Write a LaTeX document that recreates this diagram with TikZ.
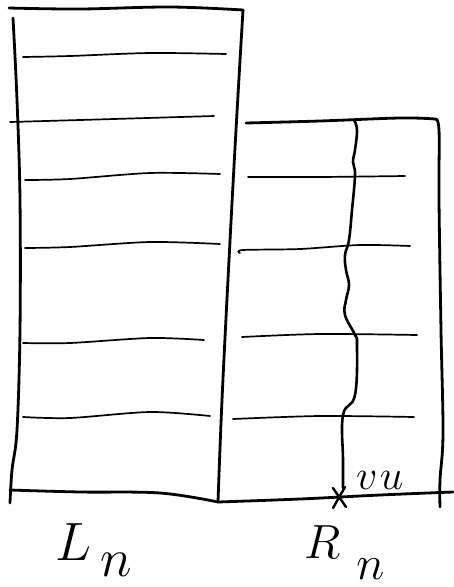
\documentclass[tikz,border=0pt]{standalone}
\usepackage{fix-cm}
\begin{document}
\begin{tikzpicture}[x=1pt,y=-1pt,
  frame/.style={line width=2.8pt,line cap=round,line join=round},
  rung/.style={line width=1.7pt,line cap=round},
  wavy/.style={line width=2.6pt,line cap=round,line join=round},
  lbl/.style={inner sep=0pt}]
\useasboundingbox (0,0) rectangle (453,587);
% left box L_n
\draw[frame] plot[smooth,tension=0.6] coordinates {(9,8) (80,9) (170,7) (243,10)};
\draw[frame] plot[smooth,tension=0.6] coordinates {(13,18) (17,100) (20,200) (20,330) (17,430) (12,470) (10,503)};
\draw[frame] plot[smooth,tension=0.6] coordinates {(243,10) (236,130) (229,260) (222,400) (218,502)};
\draw[frame] plot[smooth,tension=0.6] coordinates {(10,490) (80,492) (160,493) (218,502)};
% rungs left
\draw[rung] plot[smooth] coordinates {(23,57) (70,56) (150,53) (226,54)};
\draw[rung] plot[smooth] coordinates {(10,122) (80,120) (214,116)};
\draw[rung] plot[smooth] coordinates {(25,180) (70,179) (150,173) (220,174)};
\draw[rung] plot[smooth] coordinates {(25,248) (70,247) (150,242) (220,244)};
\draw[rung] plot[smooth] coordinates {(23,343) (70,343) (150,338) (204,340)};
\draw[rung] plot[smooth] coordinates {(23,417) (70,418) (150,412) (210,416)};
% right box R_n
\draw[frame] plot[smooth,tension=0.6] coordinates {(246,123) (320,121) (400,118) (435,119)};
\draw[frame] plot[smooth,tension=0.6] coordinates {(435,119) (439,130) (439,200) (441,330) (443,433) (440,480) (440,507)};
\draw[frame] plot[smooth,tension=0.6] coordinates {(218,502) (300,499) (380,495) (453,492)};
% rungs right
\draw[rung] plot[smooth] coordinates {(248,177) (320,177) (405,176)};
\draw[rung] plot[smooth] coordinates {(240,253) (243,250) (300,249) (360,245) (410,246)};
\draw[rung] plot[smooth] coordinates {(242,337) (320,334) (417,335)};
\draw[rung] plot[smooth] coordinates {(233,419) (320,416) (414,417)};
% wavy split line
\draw[wavy] plot[smooth,tension=0.7] coordinates {(354,120) (357,130) (355,150) (353,162) (355,175) (352,210) (349,240) (345,255) (346,270) (349,285) (346,300) (345,315) (355,335) (357,345) (355,395) (343,415) (343,460) (343,488)};
% cross
\node[lbl] (cross) at (340,497) {};
\draw[line width=2.4pt,line cap=round] (333,488) -- (346,507) (345,487) -- (333,508);
% labels
\node[lbl,anchor=base west] (vu) at (356,489) {\fontsize{42}{46}\selectfont $v\mkern1mu u$};
\node[lbl,anchor=base west] (Ln) at (55,560) {\fontsize{54}{60}\selectfont $L\mkern3mu\raisebox{-16pt}{$n$}$};
\node[lbl,anchor=base west] (Rn) at (304,558) {\fontsize{48}{54}\selectfont $R\mkern6mu\raisebox{-21pt}{$n$}$};
\end{tikzpicture}
\end{document}
